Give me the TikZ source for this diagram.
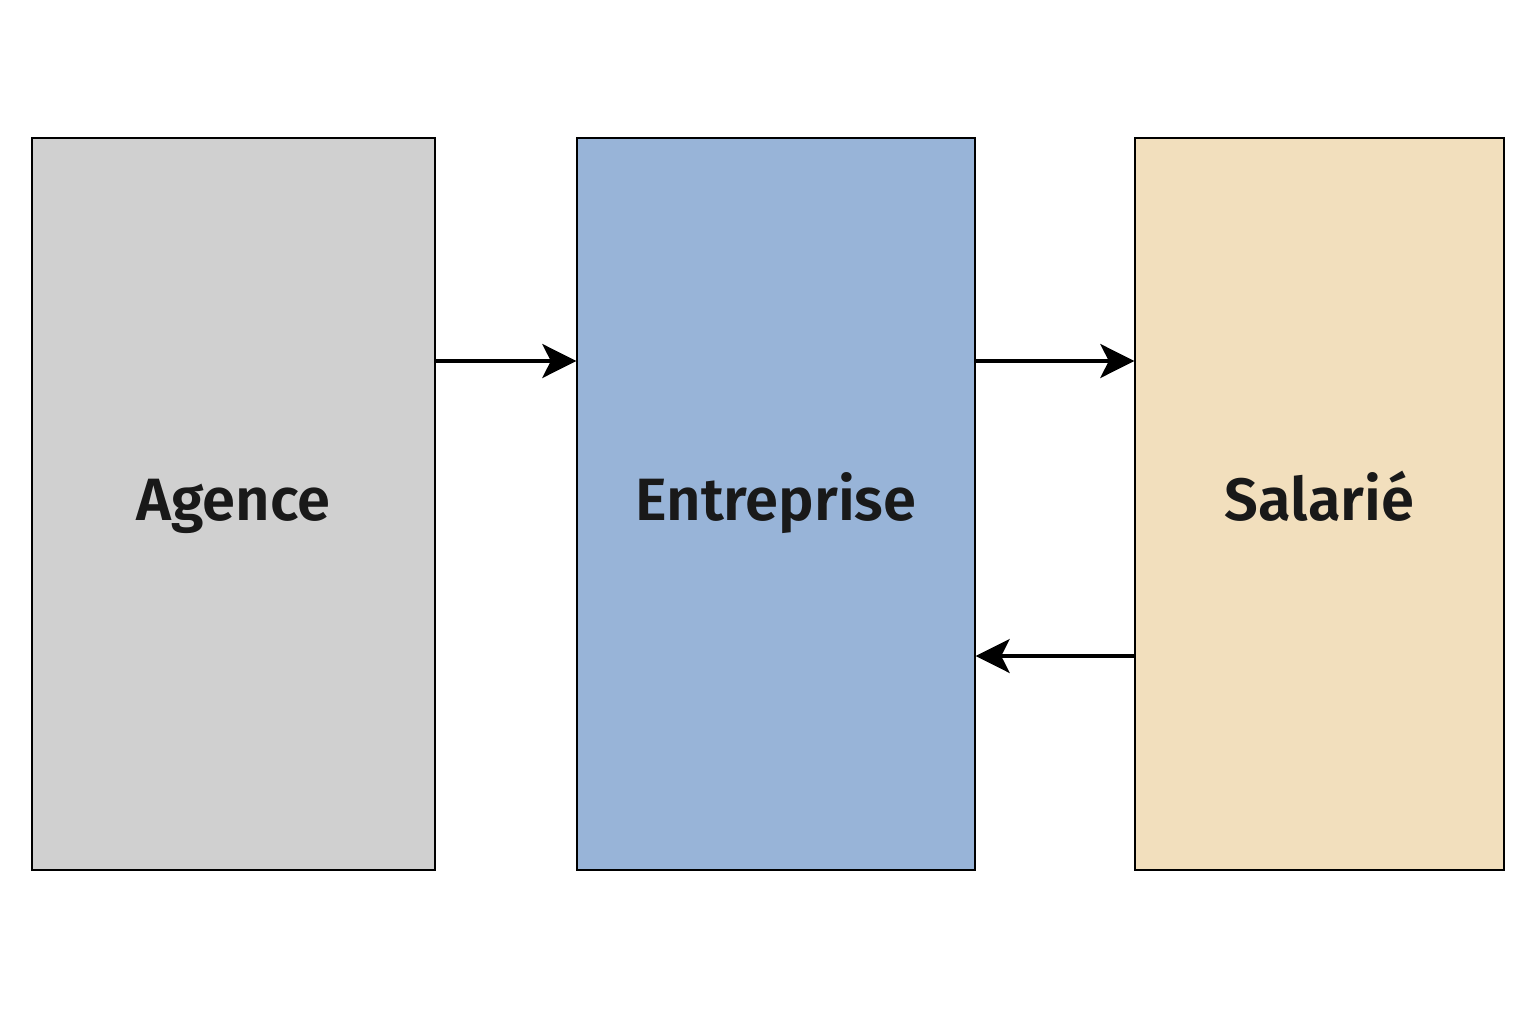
\documentclass[tikz,border=0pt]{standalone}
\usepackage{fontspec}
\setmainfont{Fira Sans}[BoldFont={Fira Sans SemiBold}]
\usetikzlibrary{calc}
\usetikzlibrary{positioning}
\usetikzlibrary{arrows.meta}

\definecolor{agenceGray}{HTML}{D0D0D0}
\definecolor{entrepriseBlue}{HTML}{98B4D8}
\definecolor{salarieSand}{HTML}{F2DFBD}

\begin{document}
\begin{tikzpicture}[
    party/.style={rectangle, minimum height=14.64cm, text height=0.9cm, text depth=0.26cm, draw=black, line width=0.8pt, font=\bfseries\fontsize{34}{40}\selectfont, text=black!90},
    flow/.style={-{Stealth[length=0.68cm, width=0.68cm, inset=0.17cm]}, line width=0.07cm}
]
    \useasboundingbox (0,0) rectangle (30.72,20.48);

    \node [party, minimum width=8.06cm, fill=agenceGray] (agence) at (4.67, 10.4) {Agence};
    \node [party, minimum width=7.96cm, fill=entrepriseBlue] (entreprise) at (15.52, 10.4) {Entreprise};
    \node [party, minimum width=7.38cm, fill=salarieSand] (salarie) at (26.39, 10.4) {Salarié};

    \draw [flow] ($(agence.east)+(0,2.86)$) -- ($(entreprise.west)+(0,2.86)$);
    \draw [flow] ($(entreprise.east)+(0,2.86)$) -- ($(salarie.west)+(0,2.86)$);
    \draw [flow] ($(salarie.west)+(0,-3.04)$) -- ($(entreprise.east)+(0,-3.04)$);
\end{tikzpicture}
\end{document}
